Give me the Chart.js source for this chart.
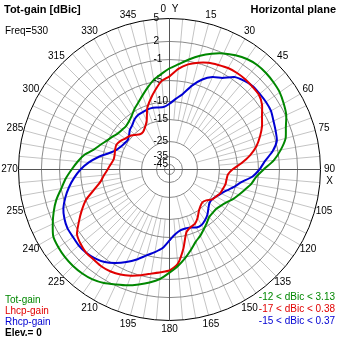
<!DOCTYPE html>
<html><head><meta charset="utf-8">
<script src="https://cdn.jsdelivr.net/npm/chart.js@4/dist/chart.umd.min.js"></script>
<style>html,body{margin:0;padding:0;background:#fff;}canvas{display:block;}</style>
</head><body>
<canvas id="c" width="339" height="339"></canvas>
<script>
// ---- data ----
const angles = [0,5,10,15,20,25,30,35,40,45,50,55,60,65,70,75,80,85,90,95,100,105,110,115,120,125,130,135,140,145,150,155,160,165,170,175,180,185,190,195,200,205,210,215,220,225,230,235,240,245,250,255,260,265,270,275,280,285,290,295,300,305,310,315,320,325,330,335,340,345,350,355];
const totGain = [-2.7,-1.8,-0.7,0.3,1.2,2.0,2.5,2.9,3.1,3.1,3.0,2.85,2.5,2.1,1.3,0.7,-0.5,-2.0,-4.0,-5.5,-6.4,-7.6,-8.6,-9.5,-10.6,-11.4,-11.9,-11.9,-11.7,-10.8,-9.8,-8.8,-7.9,-6.4,-4.8,-3.5,-2.3,-1.0,-0.2,0.5,1.2,1.8,2.4,2.8,3.0,3.1,3.1,3.0,2.8,2.1,1.2,0.2,-1.0,-2.1,-3.3,-4.4,-5.7,-7.6,-8.8,-9.8,-10.6,-11.4,-11.7,-11.8,-11.4,-10.6,-9.5,-8.6,-7.4,-6.0,-4.6,-3.7];
const lhcpGain = [-4.2,-2.7,-1.6,-0.9,-0.4,-0.1,0.2,0.3,0.3,0.2,0.1,-0.5,-1.6,-2.5,-3.6,-4.8,-6.7,-9.0,-11.4,-12.6,-12.8,-12.8,-13.1,-13.3,-13.9,-14.4,-15.9,-16.6,-15.9,-14.7,-13.3,-12.2,-11.8,-10.8,-7.1,-3.9,-2.7,-2.3,-1.8,-1.1,-0.5,0.0,0.3,0.4,0.3,0.3,0.0,-0.5,-2.0,-3.5,-5.0,-7.6,-9.5,-10.6,-11.7,-12.5,-13.1,-13.1,-12.8,-12.6,-13.1,-13.9,-14.4,-15.5,-16.8,-16.8,-15.5,-13.9,-10.8,-8.8,-6.9,-5.0];
const rhcpGain = [-10.6,-9.3,-7.9,-5.5,-3.7,-2.5,-1.8,-0.5,0.0,0.3,0.3,0.3,0.2,-0.2,-0.5,-0.8,-2.0,-3.7,-4.8,-6.4,-8.8,-10.3,-11.9,-13.1,-13.9,-14.4,-14.4,-13.6,-12.5,-11.7,-11.1,-11.1,-11.7,-11.9,-11.7,-10.8,-9.3,-7.4,-6.2,-5.0,-3.7,-2.5,-1.4,-0.5,0.0,0.3,0.4,0.3,0.3,0.0,-0.5,-1.4,-2.5,-3.7,-5.0,-6.9,-9.0,-11.4,-13.1,-13.9,-14.4,-14.7,-14.2,-13.3,-12.8,-11.9,-11.4,-11.3,-11.1,-11.1,-11.4,-11.4];
const tickValues = [5, 2, -1, -5, -10, -15, -25, -35, -45];
const seriesNames = ['Tot-gain', 'Lhcp-gain', 'Rhcp-gain'];
const rangeLabels = ['-12 < dBic < 3.13', '-17 < dBic < 0.38', '-15 < dBic < 0.37'];
const titleText = 'Tot-gain [dBic]';
const freqText = 'Freq=530';
const planeText = 'Horizontal plane';
const elevText = 'Elev.= 0';

// ---- style / scale definition ----
const colors = ['rgb(0,135,0)', 'rgb(225,0,0)', 'rgb(0,0,210)'];
const FONT = "'Liberation Sans Narrow', 'Liberation Sans', Arial, sans-serif";
// dB scale of the plot: value -> fraction of outer radius (non linear, log-like)
const dbStops = [[-45,0.033],[-35,0.086],[-25,0.185],[-15,0.331],[-10,0.450],[-5,0.589],[-1,0.728],[2,0.848],[5,1.0]];
const CX = 169.5, CY = 169.5, OUTER_R = 151, LABEL_GAP = 9;

const H = Chart.helpers;
class DbRadialScale extends Chart.RadialLinearScale {
  getDistanceFromCenterForValue(value) {
    if (value === null || value === undefined || isNaN(value)) return NaN;
    const s = dbStops;
    let f;
    if (value <= s[0][0]) f = Math.max(0, s[0][1] * (value - (s[0][0] - 10)) / 10);
    else if (value >= s[s.length - 1][0]) f = s[s.length - 1][1];
    else {
      for (let i = 1; i < s.length; i++) {
        if (value <= s[i][0]) {
          const t = (value - s[i - 1][0]) / (s[i][0] - s[i - 1][0]);
          f = s[i - 1][1] + t * (s[i][1] - s[i - 1][1]);
          break;
        }
      }
    }
    return f * this.drawingArea;
  }
  setCenterPoint() {
    this.xCenter = CX; this.yCenter = CY; this.drawingArea = OUTER_R;
  }
  fit() {
    super.fit();
    const font = H.toFont(this.options.pointLabels.font);
    this._pointLabelItems = this._pointLabelItems.map((item, i) => {
      const p = this.getPointPosition(i, this.drawingArea + LABEL_GAP);
      const y = p.y - font.lineHeight / 2;
      return Object.assign({}, item, {x: p.x, y: y, textAlign: 'center', left: p.x - 10, right: p.x + 10, top: y, bottom: y + font.lineHeight});
    });
  }
  drawGrid(chartArea) {
    super.drawGrid(chartArea); // point labels only (grid/angleLines disabled)
    const ctx = this.ctx;
    const R = this.getDistanceFromCenterForValue(this.max);
    const labels = this.getLabels();
    ctx.save();
    ctx.lineWidth = 1;
    // spokes
    for (let i = 0; i < labels.length; i++) {
      const deg = +labels[i];
      if (deg % 90 === 0) continue;
      const r0 = this.getDistanceFromCenterForValue(deg % 15 === 0 ? -25 : -15);
      const p0 = this.getPointPosition(i, r0), p1 = this.getPointPosition(i, R);
      ctx.strokeStyle = '#c4c4c4';
      ctx.beginPath(); ctx.moveTo(p0.x, p0.y); ctx.lineTo(p1.x, p1.y); ctx.stroke();
    }
    // rings
    this.ticks.forEach(t => {
      const d = this.getDistanceFromCenterForValue(t.value);
      ctx.strokeStyle = t.value === this.max ? '#000' : '#8a8a8a';
      ctx.beginPath(); ctx.arc(this.xCenter, this.yCenter, d, 0, Math.PI * 2); ctx.stroke();
    });
    // main axes
    ctx.strokeStyle = '#555';
    for (let i = 0; i < labels.length; i++) {
      const deg = +labels[i];
      if (deg % 90 !== 0) continue;
      const p1 = this.getPointPosition(i, R);
      ctx.beginPath(); ctx.moveTo(this.xCenter, this.yCenter); ctx.lineTo(p1.x, p1.y); ctx.stroke();
    }
    ctx.restore();
  }
  drawLabels() {
    const ctx = this.ctx;
    const opts = this.options.ticks;
    const font = H.toFont(opts.font);
    ctx.save();
    ctx.font = font.string;
    ctx.fillStyle = '#000';
    ctx.textAlign = 'left';
    ctx.textBaseline = 'middle';
    this.ticks.forEach(t => {
      const d = this.getDistanceFromCenterForValue(t.value);
      ctx.fillText(t.label, this.xCenter - 16, this.yCenter - d);
    });
    ctx.restore();
  }
}
DbRadialScale.id = 'radialDb';
DbRadialScale.defaults = Chart.RadialLinearScale.defaults;
DbRadialScale.defaultRoutes = Chart.RadialLinearScale.defaultRoutes;
DbRadialScale.descriptors = Chart.RadialLinearScale.descriptors;
Chart.register(DbRadialScale);

const textPlugin = {
  id: 'texts',
  afterDraw(chart) {
    const ctx = chart.ctx;
    ctx.save();
    ctx.textBaseline = 'middle';
    ctx.fillStyle = '#000';
    ctx.font = 'bold 11px ' + FONT;
    ctx.textAlign = 'left';
    ctx.fillText(titleText, 4, 9.5);
    ctx.textAlign = 'right';
    ctx.fillText(planeText, 336, 9.5);
    ctx.font = '10px ' + FONT;
    ctx.textAlign = 'left';
    ctx.fillText(freqText, 5, 31.5);
    const ly = [300, 311.5, 322.5];
    const ry = [297, 309.5, 321.5];
    seriesNames.forEach((n, i) => {
      ctx.fillStyle = colors[i];
      ctx.textAlign = 'left';
      ctx.fillText(n, 5, ly[i]);
      ctx.textAlign = 'right';
      ctx.fillText(rangeLabels[i], 335, ry[i]);
    });
    ctx.fillStyle = '#000';
    ctx.textAlign = 'left';
    ctx.font = 'bold 10px ' + FONT;
    ctx.fillText(elevText, 5, 333);
    ctx.restore();
  }
};

new Chart(document.getElementById('c'), {
  type: 'radar',
  data: {
    labels: angles,
    datasets: [
      {label: seriesNames[0], data: totGain, borderColor: colors[0]},
      {label: seriesNames[1], data: lhcpGain, borderColor: colors[1]},
      {label: seriesNames[2], data: rhcpGain, borderColor: colors[2]}
    ]
  },
  options: {
    responsive: false,
    animation: false,
    devicePixelRatio: 1,
    layout: {padding: 0},
    elements: {
      line: {borderWidth: 2, fill: false, tension: 0.2, borderJoinStyle: 'round'},
      point: {radius: 0, hoverRadius: 0}
    },
    plugins: {legend: {display: false}, tooltip: {enabled: false}},
    scales: {
      r: {
        type: 'radialDb',
        min: -45,
        max: 5,
        startAngle: 0,
        grid: {display: false},
        angleLines: {display: false},
        afterBuildTicks: (scale) => { scale.ticks = tickValues.map(v => ({value: v})); },
        ticks: {display: true, showLabelBackdrop: false, font: {family: FONT, size: 10}, color: '#000', callback: v => String(v)},
        pointLabels: {
          display: true,
          font: {family: FONT, size: 10},
          color: '#000',
          padding: 0,
          callback: (a) => (a % 15 !== 0) ? '' : (a === 0 ? '0  Y' : (a === 90 ? ['90', 'X'] : String(a)))
        }
      }
    }
  },
  plugins: [textPlugin]
});
</script>
</body></html>
